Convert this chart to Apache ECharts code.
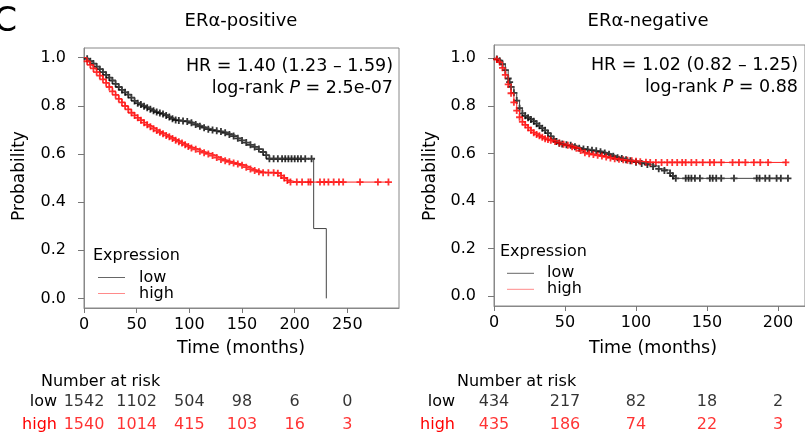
<!DOCTYPE html>
<html lang="en">
<head>
<meta charset="UTF-8">
<title>ERα survival</title>
<script src="https://cdn.jsdelivr.net/npm/echarts@6/dist/echarts.min.js"></script>
<style>
    html, body {margin: 0; padding: 0; background: #fff;}
    #main {width: 805px; height: 436px;}
</style>
</head>
<body>
<div id="main"></div>
<script type="text/javascript">
    // ---- data ----
    var yTicks = [0, 0.2, 0.4, 0.6, 0.8, 1.0];
    var xTicksLeft = [0, 50, 100, 150, 200, 250];
    var xTicksRight = [0, 50, 100, 150, 200];

    // ERa-positive, low expression (black)
    var leftLowT = [0, 3, 6, 9, 12, 15, 18, 21, 24, 27, 30, 33, 36, 39, 42, 45, 48, 51, 54, 57,
        60, 63, 66, 69, 72, 75, 78, 81, 84, 87, 90, 94, 98, 102, 106, 110, 114, 118, 122, 126,
        130, 134, 138, 142, 146, 150, 154, 158, 162, 166, 170, 173, 176, 180, 184, 188, 191, 194, 197, 200,
        203, 206, 210, 216, 218, 230];
    var leftLowS = [1, 0.995, 0.985, 0.975, 0.963, 0.952, 0.94, 0.928, 0.917, 0.905, 0.891, 0.878, 0.866, 0.856, 0.846, 0.834, 0.82, 0.811, 0.805, 0.798,
        0.792, 0.786, 0.779, 0.774, 0.77, 0.766, 0.76, 0.753, 0.746, 0.741, 0.739, 0.737, 0.735, 0.729, 0.722, 0.715, 0.709, 0.703, 0.699, 0.696,
        0.693, 0.688, 0.681, 0.674, 0.665, 0.656, 0.647, 0.638, 0.629, 0.62, 0.608, 0.595, 0.58, 0.58, 0.58, 0.58, 0.58, 0.58, 0.58, 0.58,
        0.58, 0.58, 0.58, 0.58, 0.29, 0];
    // ERa-positive, high expression (red)
    var leftHighT = [0, 3, 6, 9, 12, 15, 18, 21, 24, 27, 30, 33, 36, 39, 42, 45, 48, 51, 54, 57,
        60, 63, 66, 69, 72, 75, 78, 81, 84, 87, 90, 93, 96, 99, 102, 106, 110, 114, 118, 122,
        126, 130, 134, 138, 142, 146, 150, 154, 158, 162, 166, 170, 175, 180, 184, 187, 190, 193, 196, 202,
        207, 213, 215, 224, 228, 232, 237, 242, 246, 262, 279, 289];
    var leftHighS = [1, 0.985, 0.97, 0.955, 0.94, 0.925, 0.91, 0.895, 0.878, 0.86, 0.845, 0.829, 0.814, 0.799, 0.785, 0.771, 0.76, 0.75, 0.74, 0.73,
        0.721, 0.713, 0.705, 0.697, 0.69, 0.684, 0.677, 0.671, 0.664, 0.657, 0.651, 0.645, 0.638, 0.631, 0.625, 0.619, 0.611, 0.605, 0.6, 0.593,
        0.585, 0.577, 0.572, 0.567, 0.562, 0.558, 0.553, 0.545, 0.537, 0.531, 0.526, 0.522, 0.522, 0.522, 0.52, 0.51, 0.5, 0.49, 0.483, 0.483,
        0.483, 0.483, 0.483, 0.483, 0.483, 0.483, 0.483, 0.483, 0.483, 0.483, 0.483, 0.483];

    // ERa-negative, low expression (black)
    var rightLowT = [0, 2, 4, 6, 8, 10, 11, 12, 14, 16, 18, 20, 22, 24, 26, 28, 30, 32, 34, 36,
        38, 40, 42, 44, 46, 48, 51, 54, 57, 60, 63, 66, 69, 72, 75, 78, 81, 84, 87, 90,
        93, 96, 100, 104, 108, 112, 116, 120, 124, 126, 128, 135, 137, 139, 141.5, 145, 152, 154, 156.5, 160,
        169, 185, 187, 191, 194, 199, 202, 207];
    var rightLowS = [1, 0.997, 0.99, 0.975, 0.95, 0.915, 0.9, 0.88, 0.855, 0.822, 0.79, 0.768, 0.758, 0.75, 0.743, 0.735, 0.725, 0.716, 0.706, 0.697,
        0.685, 0.672, 0.66, 0.65, 0.643, 0.64, 0.636, 0.634, 0.628, 0.622, 0.618, 0.616, 0.613, 0.611, 0.607, 0.602, 0.596, 0.588, 0.582, 0.578,
        0.573, 0.569, 0.563, 0.558, 0.553, 0.545, 0.535, 0.528, 0.517, 0.505, 0.495, 0.495, 0.495, 0.495, 0.495, 0.495, 0.495, 0.495, 0.495, 0.495,
        0.495, 0.495, 0.495, 0.495, 0.495, 0.495, 0.495, 0.495];
    // ERa-negative, high expression (red)
    var rightHighT = [0, 2, 4, 6, 8, 10, 12, 14, 16, 18, 20, 22, 24, 26, 28, 30, 32, 34, 36, 38,
        40, 43, 46, 49, 52, 55, 58, 61, 64, 67, 70, 73, 76, 79, 82, 85, 88, 91, 94, 97,
        100, 103, 107, 110, 114, 118, 122, 125.5, 129, 132.5, 135, 139, 142.5, 147, 152, 155, 160, 168, 172.5, 177,
        183, 187.5, 193, 205.5];
    var rightHighS = [1, 0.995, 0.984, 0.96, 0.93, 0.89, 0.853, 0.815, 0.78, 0.752, 0.733, 0.72, 0.708, 0.697, 0.687, 0.68, 0.674, 0.668, 0.662, 0.658,
        0.655, 0.65, 0.644, 0.638, 0.634, 0.628, 0.622, 0.612, 0.603, 0.598, 0.595, 0.592, 0.589, 0.585, 0.581, 0.577, 0.575, 0.573, 0.571, 0.569,
        0.567, 0.565, 0.563, 0.562, 0.562, 0.562, 0.562, 0.562, 0.562, 0.562, 0.562, 0.562, 0.562, 0.562, 0.562, 0.562, 0.562, 0.562, 0.562, 0.562,
        0.562, 0.562, 0.562, 0.562];

    // number at risk
    var leftRiskLow = [1542, 1102, 504, 98, 6, 0];
    var leftRiskHigh = [1540, 1014, 415, 103, 16, 3];
    var rightRiskLow = [434, 217, 82, 18, 2];
    var rightRiskHigh = [435, 186, 74, 22, 3];

    // ---- chart ----
    var FONT = 'DejaVu Sans';
    var PLUS = 'path://M2.6,0H4.4V2.6H7V4.4H4.4V7H2.6V4.4H0V2.6H2.6Z';
    var myChart = echarts.init(document.getElementById('main'));

    function pairs(t, s) {
        return t.map(function (v, i) { return [v, s[i]]; });
    }

    // step line + censor marks
    function kmSeries(name, idx, t, s, lineColor, markColor, markEnd) {
        var d = pairs(t, s);
        return [{
            name: name, type: 'line', step: 'end', xAxisIndex: idx, yAxisIndex: idx,
            showSymbol: false, data: d, silent: true,
            lineStyle: {color: lineColor, width: 1}, itemStyle: {color: lineColor}
        }, {
            name: name, type: 'scatter', xAxisIndex: idx, yAxisIndex: idx,
            symbol: PLUS, symbolSize: 7, silent: true,
            data: d.slice(1, markEnd), itemStyle: {color: markColor}
        }];
    }

    function riskSeries(idx, ticks, vals, row, color) {
        return {
            type: 'scatter', xAxisIndex: idx, yAxisIndex: idx, symbolSize: 0, silent: true,
            data: ticks.map(function (t, i) { return [t, row, vals[i]]; }),
            label: {
                show: true, position: 'inside', color: color, fontFamily: FONT, fontSize: 16,
                formatter: function (p) { return p.value[2]; }
            }
        };
    }

    function plotX(idx, max, ticks) {
        return {
            gridIndex: idx, type: 'value', min: 0, max: max,
            splitLine: {show: false},
            axisLine: {show: true, onZero: false, lineStyle: {color: '#888'}},
            axisTick: {show: true, length: 5, customValues: ticks, lineStyle: {color: '#777'}},
            axisLabel: {customValues: ticks, fontFamily: FONT, fontSize: 16, color: '#000', margin: 9}
        };
    }

    function plotY(idx, min, max) {
        return {
            gridIndex: idx, type: 'value', min: min, max: max,
            splitLine: {show: false},
            axisLine: {show: true, onZero: false, lineStyle: {color: '#888'}},
            axisTick: {show: true, length: 6, customValues: yTicks, lineStyle: {color: '#777'}},
            axisLabel: {
                customValues: yTicks, fontFamily: FONT, fontSize: 16, color: '#000', margin: 18,
                formatter: function (v) { return v.toFixed(1); }
            }
        };
    }

    function riskY(idx, margin) {
        return {
            gridIndex: idx, type: 'category', data: ['high', 'low'],
            axisLine: {show: false}, axisTick: {show: false},
            axisLabel: {
                margin: margin,
                formatter: function (v) { return v === 'high' ? '{r|high}' : '{k|low}'; },
                rich: {
                    r: {color: '#ff0000', fontFamily: FONT, fontSize: 16},
                    k: {color: '#000', fontFamily: FONT, fontSize: 16}
                }
            }
        };
    }

    function txt(x, y, text, size, align, extra) {
        var el = {
            type: 'text', x: x, y: y, silent: true,
            style: {text: text, font: size + 'px "' + FONT + '"', fill: '#000', align: align, verticalAlign: 'middle'}
        };
        if (extra) { for (var k in extra) { el[k] = extra[k]; } }
        return el;
    }

    function pText(x, y, p) {
        return {
            type: 'text', x: x, y: y, silent: true,
            style: {
                text: '{n|log-rank }{i|P}{n| = ' + p + '}',
                align: 'right', verticalAlign: 'middle', font: '17.5px "' + FONT + '"',
                rich: {
                    n: {fontFamily: FONT, fontSize: 17.5, fill: '#000'},
                    i: {fontFamily: FONT, fontSize: 17.5, fontStyle: 'italic', fill: '#000'}
                }
            }
        };
    }

    function legendFor(left, top, rowH, pad) {
        return {
            left: left, top: top, orient: 'vertical', padding: 0, itemGap: 0,
            itemWidth: 27, itemHeight: 1, icon: 'rect', selectedMode: false,
            data: [{name: 'low', itemStyle: {color: '#666'}}, {name: 'high', itemStyle: {color: '#ff8a8a'}}],
            textStyle: {fontFamily: FONT, fontSize: 16, color: '#000', lineHeight: rowH, padding: [0, 0, 0, pad]}
        };
    }

    var option = {
        animation: false,
        backgroundColor: '#fff',
        grid: [
            {left: 84, top: 48, width: 315, height: 260, show: true, borderColor: '#888', borderWidth: 1},
            {left: 494, top: 45, width: 318.6, height: 261, show: true, borderColor: '#888', borderWidth: 1},
            {left: 84, top: 390, width: 315, height: 48},
            {left: 494, top: 390, width: 318.6, height: 48}
        ],
        xAxis: [
            plotX(0, 299, xTicksLeft),
            plotX(1, 219, xTicksRight),
            {gridIndex: 2, type: 'value', min: 0, max: 299, show: false},
            {gridIndex: 3, type: 'value', min: 0, max: 219, show: false}
        ],
        yAxis: [
            plotY(0, -0.04, 1.04),
            plotY(1, -0.042, 1.056),
            riskY(2, 27),
            riskY(3, 39)
        ],
        legend: [legendFor(98, 269.5, 15, 9), legendFor(507, 265.3, 16, 8)],
        series: [].concat(
            kmSeries('low', 0, leftLowT, leftLowS, '#444', '#000', -2),
            kmSeries('high', 0, leftHighT, leftHighS, '#ff2020', '#ff0000'),
            kmSeries('low', 1, rightLowT, rightLowS, '#444', '#000'),
            kmSeries('high', 1, rightHighT, rightHighS, '#ff2020', '#ff0000'),
            [
                riskSeries(2, xTicksLeft, leftRiskLow, 'low', '#000'),
                riskSeries(2, xTicksLeft, leftRiskHigh, 'high', '#ff0000'),
                riskSeries(3, xTicksRight, rightRiskLow, 'low', '#000'),
                riskSeries(3, xTicksRight, rightRiskHigh, 'high', '#ff0000')
            ]
        ),
        graphic: [
            txt(-6, 22, 'C', 33, 'left'),
            txt(241, 21.5, 'ERα-positive', 18, 'center'),
            txt(648, 21.5, 'ERα-negative', 18, 'center'),
            txt(393, 66.5, 'HR = 1.40 (1.23 – 1.59)', 17.5, 'right'),
            pText(393, 88, '2.5e-07'),
            txt(798, 65, 'HR = 1.02 (0.82 – 1.25)', 17.5, 'right'),
            pText(798, 87, '0.88'),
            txt(20, 176, 'Probability', 17, 'center', {rotation: Math.PI / 2}),
            txt(431, 176, 'Probability', 17, 'center', {rotation: Math.PI / 2}),
            txt(241, 348, 'Time (months)', 17.5, 'center'),
            txt(653, 348, 'Time (months)', 17.5, 'center'),
            txt(93, 256, 'Expression', 16, 'left'),
            txt(500, 252, 'Expression', 16, 'left'),
            txt(41, 382, 'Number at risk', 16, 'left'),
            txt(457, 382, 'Number at risk', 16, 'left')
        ]
    };

    myChart.setOption(option);
</script>
</body>
</html>
